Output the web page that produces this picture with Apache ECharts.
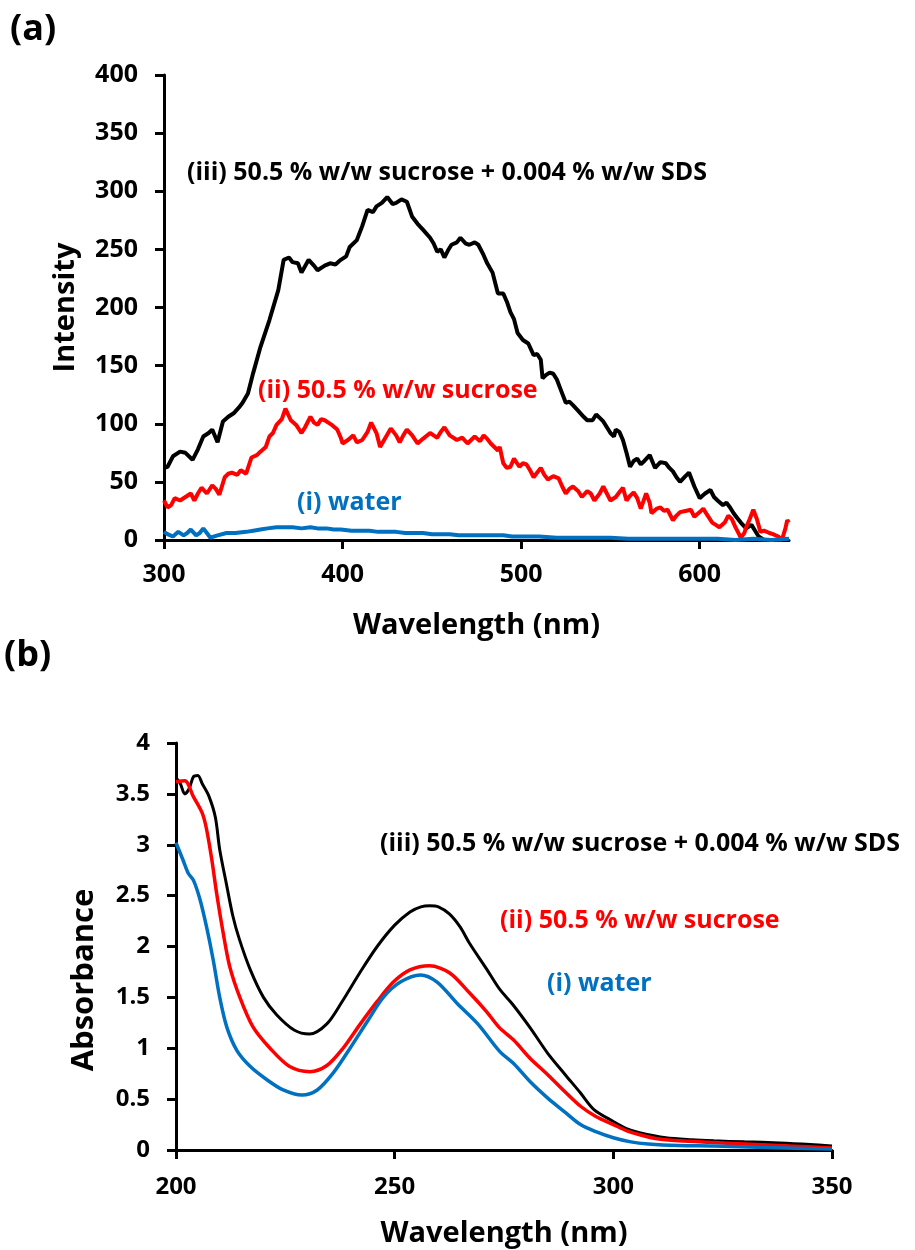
<!DOCTYPE html>
<html>
<head>
<meta charset="utf-8">
<script src="https://cdn.jsdelivr.net/npm/echarts@6/dist/echarts.min.js"></script>
<style>
    html, body { margin: 0; padding: 0; background: #fff; }
    #chart { width: 915px; height: 1250px; }
</style>
</head>
<body>
<div id="chart"></div>
<script>
// (a) 荧光光谱 -- 波长 / 强度
const wlA3 = [300, 302, 305, 309, 312, 316, 319, 322, 325, 327, 330, 333, 336, 339, 342, 344, 347, 350, 354, 359, 364, 367, 370, 372, 375, 377, 381, 384, 386, 390, 393, 396, 399, 402, 404, 408, 411, 414, 417, 419, 422, 425, 428, 430, 433, 436, 439, 442, 445, 449, 451, 453, 455, 457, 459, 461, 464, 466, 469, 471, 474, 476, 479, 481, 484, 487, 490, 492, 494, 496, 498, 501, 504, 507, 509, 511, 512, 514, 516, 518, 520, 522, 525, 527, 529, 532, 535, 537, 540, 542, 544, 546, 548, 550, 552, 553, 555, 557, 559, 561, 563, 565, 567, 569, 572, 575, 578, 581, 583, 585, 587, 589, 592, 594, 597, 600, 603, 606, 608, 610, 613, 615, 617, 619, 621, 623, 626, 629, 631, 633, 636];
const intA3 = [62, 63, 72, 76, 75, 69, 78, 89, 92, 95, 84, 102, 106, 109, 114, 118, 126, 144, 166, 189, 215, 241, 243, 239, 238, 230, 241, 236, 232, 236, 238, 237, 241, 244, 252, 258, 270, 284, 282, 287, 290, 295, 289, 290, 293, 291, 278, 272, 267, 260, 255, 248, 250, 243, 249, 254, 256, 260, 255, 254, 256, 254, 245, 238, 230, 212, 212, 205, 196, 190, 178, 172, 169, 159, 160, 155, 139, 142, 144, 143, 138, 130, 118, 119, 116, 111, 106, 103, 103, 108, 105, 102, 97, 92, 89, 95, 93, 86, 75, 63, 68, 70, 65, 68, 73, 62, 67, 66, 62, 59, 54, 50, 55, 58, 46, 36, 40, 43, 37, 34, 30, 32, 28, 23, 19, 15, 10, 13, 8, 3, 0];
const wlA2 = [300, 302, 304, 306, 309, 312, 315, 317, 319, 321, 324, 327, 329, 331, 334, 336, 338, 341, 343, 346, 349, 352, 354, 357, 359, 361, 363, 366, 368, 371, 374, 377, 379, 382, 384, 386, 388, 390, 392, 394, 397, 399, 400, 403, 406, 408, 411, 414, 416, 419, 421, 424, 427, 430, 432, 434, 436, 439, 442, 445, 449, 451, 453, 455, 457, 460, 464, 467, 470, 472, 474, 477, 479, 481, 483, 485, 487, 488, 490, 492, 494, 496, 499, 501, 503, 505, 507, 509, 511, 513, 515, 518, 521, 523, 525, 527, 529, 532, 534, 537, 539, 541, 544, 546, 548, 550, 553, 555, 557, 559, 561, 563, 565, 567, 568, 570, 572, 573, 576, 578, 580, 582, 585, 587, 589, 592, 595, 597, 600, 602, 604, 607, 609, 611, 614, 616, 618, 620, 622, 623, 625, 626, 628, 630, 632, 634, 636, 639, 641, 644, 646, 648, 649, 650];
const intA2 = [34, 28, 30, 36, 34, 37, 40, 34, 40, 45, 40, 47, 44, 39, 54, 57, 58, 56, 60, 57, 71, 73, 76, 80, 89, 92, 99, 104, 113, 103, 99, 92, 97, 106, 101, 99, 104, 103, 101, 99, 95, 88, 83, 86, 90, 84, 86, 93, 101, 92, 80, 88, 96, 90, 84, 90, 95, 90, 83, 87, 92, 90, 88, 93, 97, 90, 86, 88, 83, 86, 89, 85, 90, 87, 83, 80, 77, 80, 66, 62, 63, 70, 63, 66, 65, 60, 54, 58, 62, 56, 52, 55, 53, 46, 40, 44, 46, 42, 37, 42, 40, 34, 40, 46, 40, 34, 37, 41, 45, 34, 38, 41, 36, 27, 26, 40, 32, 23, 27, 28, 25, 26, 17, 21, 24, 25, 26, 20, 24, 27, 22, 15, 13, 11, 15, 21, 18, 11, 5, 2, 6, 11, 18, 26, 18, 7, 8, 6, 5, 3, 0, 10, 17, 15];
const wlA1 = [300, 302, 305, 308, 311, 313, 315, 318, 320, 322, 324, 326, 330, 335, 340, 346, 350, 354, 358, 363, 368, 372, 377, 382, 386, 391, 395, 399, 405, 410, 415, 420, 425, 430, 435, 440, 445, 450, 455, 460, 465, 470, 475, 480, 485, 490, 495, 500, 510, 520, 530, 540, 550, 560, 570, 580, 590, 600, 610, 620, 630, 640, 650];
const intA1 = [7, 5, 3, 7, 4, 6, 9, 4, 6, 10, 6, 2, 4, 6, 6, 7, 8, 9, 10, 11, 11, 11, 10, 11, 10, 10, 9, 9, 8, 8, 8, 7, 7, 7, 6, 6, 6, 5, 5, 5, 4, 4, 4, 4, 4, 4, 3, 3, 3, 2, 2, 2, 2, 1, 1, 1, 1, 1, 1, 0, 1, 0, 1];
const xTicksA = [300, 400, 500, 600];

// (b) 紫外吸收光谱 -- 波长 / 吸光度
const wlB3 = [200, 201, 202, 203, 204, 205, 206, 207.5, 209, 210, 211.5, 213, 214.5, 217, 220, 223, 227, 230.5, 234.5, 238, 242, 246, 250, 253.5, 256, 258, 260, 262.5, 265, 267, 271, 274, 277, 281, 285, 289, 292.5, 295.5, 300, 303, 306, 312, 318, 323, 330, 338, 345, 350];
const absB3 = [3.66, 3.6, 3.5, 3.55, 3.67, 3.68, 3.6, 3.48, 3.27, 2.95, 2.62, 2.3, 2.07, 1.77, 1.5, 1.33, 1.18, 1.14, 1.24, 1.46, 1.74, 2.0, 2.21, 2.34, 2.39, 2.4, 2.39, 2.32, 2.19, 2.04, 1.78, 1.58, 1.43, 1.2, 0.95, 0.74, 0.56, 0.4, 0.28, 0.21, 0.17, 0.12, 0.1, 0.09, 0.08, 0.07, 0.055, 0.04];
const wlB2 = [200, 202, 204, 206, 207, 208.2, 209.3, 210.8, 212.3, 214.6, 217.6, 221.5, 226, 230.6, 234.5, 238.2, 242, 246, 249.7, 253.5, 258, 262.6, 267.2, 271, 274, 277.2, 281, 285, 289, 292.5, 296, 300, 303, 306, 310, 315, 322, 330, 340, 350];
const absB2 = [3.62, 3.63, 3.47, 3.31, 3.15, 2.85, 2.52, 2.13, 1.8, 1.5, 1.21, 1.0, 0.82, 0.77, 0.83, 1.0, 1.23, 1.46, 1.65, 1.77, 1.81, 1.74, 1.54, 1.36, 1.2, 1.08, 0.9, 0.74, 0.57, 0.43, 0.33, 0.25, 0.19, 0.15, 0.11, 0.09, 0.075, 0.06, 0.04, 0.02];
const wlB1 = [200, 201.6, 202.8, 204, 205.5, 207, 208.5, 210, 211.6, 213.9, 217, 220.8, 224.5, 228.8, 232.3, 236, 239.8, 243.7, 247.4, 251.3, 255.9, 259.7, 264.3, 269, 274, 277.2, 281, 285, 289, 292.5, 296, 300, 304, 308, 315, 323, 335, 350];
const absB1 = [3.02, 2.85, 2.72, 2.65, 2.46, 2.19, 1.87, 1.5, 1.21, 0.98, 0.82, 0.69, 0.59, 0.54, 0.59, 0.76, 1.0, 1.26, 1.5, 1.65, 1.72, 1.65, 1.44, 1.24, 0.97, 0.85, 0.67, 0.51, 0.37, 0.25, 0.18, 0.12, 0.08, 0.06, 0.045, 0.04, 0.025, 0.01];

const names = ["(i) water", "(ii) 50.5 % w/w sucrose", "(iii) 50.5 % w/w sucrose + 0.004 % w/w SDS"];
const colors = ["#0070c0", "#ff0000", "#000000"];

function pairs(xs, ys) { //把两个数组合成 [x, y]
    return xs.map(function (x, i) { return [x, ys[i]]; });
}

const FONT = "'Open Sans'";
const axisLineStyle = { color: "#000", width: 3 };
const labelStyle = { color: "#000", fontFamily: FONT, fontWeight: "bold", fontSize: 25 };
const nameStyle = { color: "#000", fontFamily: FONT, fontWeight: "bold", fontSize: 29 };

const my_echart = echarts.init(document.getElementById("chart"), null, { renderer: "canvas" });
let option = {
    backgroundColor: "#fff",
    animation: false,
    grid: [ //固定网格位置，不让坐标轴名称挤压网格
        { left: 164, top: 75, width: 625, height: 465, outerBoundsMode: "none", containLabel: false },
        { left: 176, top: 743, width: 656, height: 407, outerBoundsMode: "none", containLabel: false }
    ],
    xAxis: [
        {
            gridIndex: 0, type: "value", min: 300, max: 650, interval: 100,
            name: "Wavelength (nm)", nameLocation: "middle", nameGap: 71, nameTextStyle: nameStyle,
            axisLine: { lineStyle: axisLineStyle },
            axisTick: { length: 9, lineStyle: axisLineStyle, customValues: xTicksA },
            axisLabel: Object.assign({ margin: 22, customValues: xTicksA }, labelStyle),
            splitLine: { show: false }
        },
        {
            gridIndex: 1, type: "value", min: 200, max: 350, interval: 50,
            name: "Wavelength (nm)", nameLocation: "middle", nameGap: 69, nameTextStyle: nameStyle,
            axisLine: { lineStyle: axisLineStyle },
            axisTick: { length: 9, lineStyle: axisLineStyle },
            axisLabel: Object.assign({ margin: 25 }, labelStyle, { fontSize: 24 }),
            splitLine: { show: false }
        }
    ],
    yAxis: [
        {
            gridIndex: 0, type: "value", min: 0, max: 400, interval: 50,
            name: "Intensity", nameLocation: "middle", nameGap: 84, nameTextStyle: nameStyle,
            axisLine: { show: true, lineStyle: axisLineStyle },
            axisTick: { show: true, length: 9, lineStyle: axisLineStyle },
            axisLabel: Object.assign({ margin: 26 }, labelStyle),
            splitLine: { show: false }
        },
        {
            gridIndex: 1, type: "value", min: 0, max: 4, interval: 0.5,
            axisLine: { show: true, lineStyle: axisLineStyle },
            axisTick: { show: true, length: 9, lineStyle: axisLineStyle },
            axisLabel: Object.assign({ margin: 26 }, labelStyle, { fontSize: 24 }),
            splitLine: { show: false }
        }
    ],
    series: [
        { name: names[2], type: "line", xAxisIndex: 0, yAxisIndex: 0, showSymbol: false, data: pairs(wlA3, intA3), lineStyle: { color: colors[2], width: 4 } },
        { name: names[1], type: "line", xAxisIndex: 0, yAxisIndex: 0, showSymbol: false, data: pairs(wlA2, intA2), lineStyle: { color: colors[1], width: 4 } },
        { name: names[0], type: "line", xAxisIndex: 0, yAxisIndex: 0, showSymbol: false, data: pairs(wlA1, intA1), lineStyle: { color: colors[0], width: 4 } },
        { name: names[2], type: "line", xAxisIndex: 1, yAxisIndex: 1, showSymbol: false, smooth: 0.3, data: pairs(wlB3, absB3), lineStyle: { color: colors[2], width: 3 } },
        { name: names[1], type: "line", xAxisIndex: 1, yAxisIndex: 1, showSymbol: false, smooth: 0.3, data: pairs(wlB2, absB2), lineStyle: { color: colors[1], width: 3.5 } },
        { name: names[0], type: "line", xAxisIndex: 1, yAxisIndex: 1, showSymbol: false, smooth: 0.3, data: pairs(wlB1, absB1), lineStyle: { color: colors[0], width: 3.5 } }
    ],
    graphic: [
        { type: "text", left: 10, top: 12, style: { text: "(a)", font: "bold 36px " + FONT, fill: "#000" } },
        { type: "text", left: 4, top: 638, style: { text: "(b)", font: "bold 36px " + FONT, fill: "#000" } },
        { type: "text", x: 187, y: 173, style: { text: names[2], font: "bold 25px " + FONT, fill: colors[2], verticalAlign: "middle" } },
        { type: "text", x: 258, y: 391, style: { text: names[1], font: "bold 25px " + FONT, fill: colors[1], verticalAlign: "middle" } },
        { type: "text", x: 297, y: 503, style: { text: names[0], font: "bold 25px " + FONT, fill: colors[0], verticalAlign: "middle" } },
        { type: "text", x: 380, y: 844, style: { text: names[2], font: "bold 25px " + FONT, fill: colors[2], verticalAlign: "middle" } },
        { type: "text", x: 500, y: 921, style: { text: names[1], font: "bold 25px " + FONT, fill: colors[1], verticalAlign: "middle" } },
        { type: "text", x: 547, y: 984, style: { text: names[0], font: "bold 25px " + FONT, fill: colors[0], verticalAlign: "middle" } },
        { type: "text", x: 84, y: 980, rotation: Math.PI / 2, style: { text: "Absorbance", font: "bold 31px " + FONT, fill: "#000", align: "center", verticalAlign: "middle" } }
    ]
}; //配置项
my_echart.setOption(option);
</script>
</body>
</html>
